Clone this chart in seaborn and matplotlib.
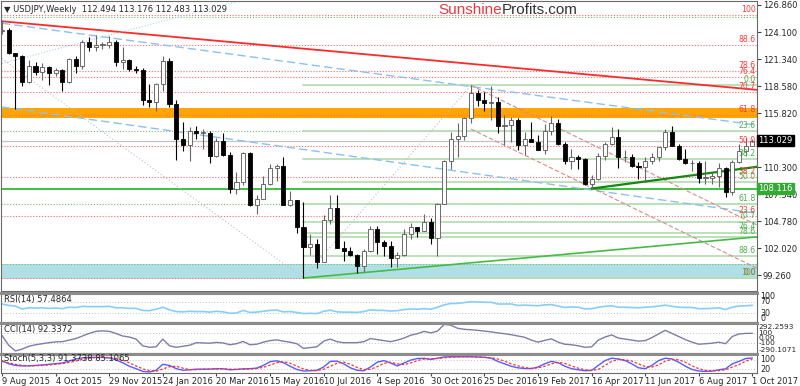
import matplotlib
matplotlib.use('Agg')
import matplotlib.pyplot as plt
import seaborn as sns

# USDJPY weekly candles, week of 9 Aug 2015 .. week of 1 Oct 2017 (bar index 0..112)
opens = [124.20, 124.30, 122.00, 121.70, 119.00, 120.60, 120.00, 120.50, 119.90, 120.20,
         119.00, 121.40, 120.60, 123.10, 122.60, 122.80, 122.80, 123.10, 121.00, 121.20,
         120.30, 120.20, 117.20, 117.00, 118.80, 121.10, 116.80, 113.20, 112.60, 114.00,
         113.80, 113.80, 111.50, 113.00, 111.60, 108.10, 108.80, 111.80, 106.50, 107.10,
         108.60, 110.20, 110.40, 106.50, 107.00, 104.20, 102.20, 102.50, 100.60, 104.90,
         106.10, 102.10, 101.80, 101.30, 100.20, 101.80, 104.00, 102.70, 102.30, 101.00,
         101.30, 103.50, 104.20, 103.80, 104.70, 103.10, 106.60, 110.90, 113.20, 113.50,
         115.30, 117.90, 117.20, 116.90, 117.00, 114.50, 114.60, 115.10, 112.60, 113.20,
         112.90, 112.10, 114.00, 114.80, 112.70, 110.90, 111.40, 111.10, 108.60, 109.10,
         111.50, 112.70, 113.40, 111.30, 111.30, 110.40, 110.30, 110.90, 111.30, 112.40,
         113.90, 112.50, 111.10, 110.70, 110.70, 109.20, 109.20, 109.40, 110.20, 107.80,
         110.80, 112.00, 112.494]
highs = [125.30, 124.50, 122.00, 121.75, 121.20, 121.00, 120.90, 120.60, 120.40, 120.30,
         121.50, 121.70, 123.30, 123.60, 123.80, 123.10, 123.70, 123.30, 122.60, 121.40,
         120.60, 120.40, 118.80, 118.90, 121.70, 121.50, 117.20, 114.90, 114.40, 114.50,
         114.20, 114.00, 113.30, 113.80, 111.90, 109.80, 111.90, 111.90, 107.50, 109.40,
         110.60, 110.60, 111.40, 107.90, 107.00, 106.80, 103.50, 103.00, 105.40, 107.50,
         107.50, 102.80, 102.20, 101.50, 102.00, 104.30, 104.30, 102.90, 102.80, 101.70,
         104.00, 104.60, 104.20, 105.50, 105.10, 106.70, 111.00, 113.90, 114.80, 115.40,
         118.66, 118.20, 118.00, 118.60, 117.50, 115.60, 115.40, 115.30, 113.90, 114.95,
         113.60, 114.70, 115.50, 115.20, 112.90, 112.20, 111.60, 111.20, 109.50, 111.80,
         112.90, 114.40, 114.20, 112.10, 111.70, 110.80, 111.40, 111.80, 112.40, 114.20,
         114.50, 112.70, 112.20, 111.00, 110.90, 110.90, 109.80, 110.70, 110.30, 111.00,
         112.70, 113.30, 113.176]
lows = [123.90, 121.90, 116.20, 118.60, 118.90, 119.70, 119.20, 118.70, 119.60, 118.10,
        118.90, 119.90, 120.30, 122.20, 122.20, 122.40, 122.50, 120.60, 120.30, 120.10,
        119.90, 116.70, 116.50, 116.00, 118.10, 116.50, 111.00, 112.00, 110.90, 113.20,
        112.20, 110.70, 111.40, 111.50, 107.70, 107.60, 108.50, 106.30, 105.50, 107.10,
        108.50, 108.90, 106.50, 106.30, 103.60, 99.00, 101.40, 100.00, 100.60, 104.50,
        102.10, 100.70, 101.20, 99.50, 99.60, 101.70, 101.50, 101.20, 100.10, 100.10,
        101.20, 103.00, 103.20, 103.80, 102.50, 101.20, 106.60, 110.10, 111.40, 113.10,
        114.80, 116.60, 116.00, 115.10, 113.80, 112.60, 112.90, 112.10, 111.60, 113.00,
        112.10, 111.70, 113.60, 112.60, 110.60, 110.10, 110.10, 108.50, 108.13, 109.00,
        111.00, 112.60, 110.20, 110.80, 110.30, 109.10, 108.80, 110.60, 110.90, 112.10,
        112.50, 111.00, 110.60, 109.90, 108.70, 108.60, 108.60, 108.30, 107.30, 107.50,
        110.70, 111.50, 112.483]
closes = [124.30, 122.00, 121.70, 119.00, 120.60, 120.00, 120.50, 119.90, 120.20, 119.00,
          121.40, 120.60, 123.10, 122.60, 122.80, 122.80, 123.10, 121.00, 121.20, 120.30,
          120.20, 117.20, 117.00, 118.80, 121.10, 116.80, 113.20, 112.60, 114.00, 113.80,
          113.80, 111.50, 113.00, 111.60, 108.10, 108.80, 111.80, 106.50, 107.10, 108.60,
          110.20, 110.40, 106.50, 107.00, 104.20, 102.20, 102.50, 100.60, 104.90, 106.10,
          102.10, 101.80, 101.30, 100.20, 101.80, 104.00, 102.70, 102.30, 101.00, 101.30,
          103.50, 104.20, 103.80, 104.70, 103.10, 106.60, 110.90, 113.20, 113.50, 115.30,
          117.90, 117.20, 116.90, 117.00, 114.50, 114.60, 115.10, 112.60, 113.20, 112.90,
          112.10, 114.00, 114.80, 112.70, 110.90, 111.40, 111.10, 108.60, 109.10, 111.50,
          112.70, 113.40, 111.30, 111.30, 110.40, 110.30, 110.90, 111.30, 112.40, 113.90,
          112.50, 111.10, 110.70, 110.70, 109.20, 109.20, 109.40, 110.20, 107.80, 110.80,
          112.00, 112.50, 113.029]

# indicator readings per bar
rsi = [62, 57, 55, 45, 49, 48, 49, 47, 48, 46, 51, 50, 54, 53, 53, 53, 54, 49, 49, 47,
       47, 40, 39, 44, 51, 42, 36, 35, 37, 36, 36, 34, 37, 35, 30, 31, 40, 33, 34, 37,
       40, 41, 35, 36, 33, 29, 30, 29, 37, 41, 35, 34, 34, 33, 36, 42, 40, 40, 38, 39,
       43, 45, 44, 46, 44, 51, 59, 64, 64, 67, 70, 69, 68, 68, 62, 62, 62, 57, 58, 57,
       56, 59, 60, 55, 50, 52, 51, 45, 46, 51, 54, 56, 51, 51, 50, 49, 51, 52, 55, 58,
       54, 51, 50, 50, 46, 46, 47, 49, 43, 51, 55, 56, 57.49]
cci = [50, -140, -250, -215, -160, -130, -110, -90, -75, -70, -40, -10, 40, 90, 130, 140, 130, 90, 40, 20,
       -20, -150, -180, -170, -20, -150, -180, -160, -140, -90, -95, -100, -85, -95, -130, -110, -65, -130, -120, -80,
       -50, -35, -60, -80, -110, -200, -185, -170, -60, -20, -70, -90, -90, -90, -70, -10, -30, -50, -70, -40,
       0, 55, 85, 130, 100, 135, 265, 250, 190, 170, 160, 150, 135, 120, 100, 85, 65, 40, 15, -40,
       -80, -45, -15, -80, -120, -130, -150, -180, -170, -40, 20, 60, 0, -20, -40, -60, -50, 10, 80, 150,
       90, 30, -30, -80, -120, -110, -100, -80, -110, 30, 80, 90, 92.34]
stoch_main = [75, 55, 45, 42, 42, 45, 48, 52, 56, 60, 72, 85, 92, 95, 95, 94, 92, 80, 62, 40,
              25, 8, 4, 15, 52, 45, 25, 15, 18, 22, 22, 22, 25, 24, 18, 20, 24, 25, 28, 45,
              68, 74, 62, 40, 20, 10, 12, 15, 35, 70, 72, 55, 30, 15, 12, 35, 65, 75, 60, 42,
              60, 78, 88, 89, 82, 90, 98, 99, 99, 99, 99, 97, 95, 90, 70, 55, 40, 30, 26, 25,
              35, 55, 70, 62, 40, 25, 18, 12, 14, 45, 75, 90, 85, 75, 55, 30, 25, 45, 75, 90,
              85, 65, 40, 20, 10, 8, 10, 18, 24, 55, 70, 88, 91.37]
stoch_signal = [70, 62, 52, 45, 43, 43, 45, 48, 52, 56, 63, 72, 83, 90, 94, 95, 94, 89, 78, 61,
                42, 24, 12, 9, 23, 37, 40, 28, 19, 18, 21, 22, 23, 24, 22, 21, 21, 23, 26, 33,
                47, 62, 68, 59, 41, 23, 14, 12, 21, 40, 59, 66, 52, 33, 19, 21, 37, 58, 65, 55,
                50, 60, 75, 85, 87, 88, 92, 96, 98, 99, 99, 98, 96, 93, 85, 72, 55, 42, 32, 27,
                30, 40, 55, 64, 58, 42, 28, 18, 14, 20, 45, 70, 82, 80, 72, 55, 38, 35, 48, 72,
                82, 80, 65, 42, 25, 14, 11, 12, 18, 35, 50, 72, 85.11]

date_labels = ['9 Aug 2015', '4 Oct 2015', '29 Nov 2015', '24 Jan 2016', '20 Mar 2016',
               '15 May 2016', '10 Jul 2016', '4 Sep 2016', '30 Oct 2016', '25 Dec 2016',
               '19 Feb 2017', '16 Apr 2017', '11 Jun 2017', '6 Aug 2017', '1 Oct 2017']
# 113.060 sits under the current-price box, so it is left out
price_ticks = [99.26, 102.02, 104.78, 107.54, 110.30, 115.82, 118.58, 121.34, 124.10, 126.86]

red_fib_names = ['100', '88.6', '78.6', '76.4', '70.7', '61.8', '50.0', '38.2', '23.6', '0.0']
red_fib_levels = [125.86, 122.80, 120.11, 119.52, 117.99, 115.60, 112.43, 109.26, 105.34, 99.00]
green_fib_names = ['0.0', '23.6', '38.2', '50.0', '61.8', '70.7', '76.4', '78.6', '88.6', '100']
green_fib_levels = [118.66, 114.02, 111.15, 108.83, 106.51, 104.76, 103.64, 103.21, 101.24, 99.00]
green_dotted_levels = [125.60, 114.02, 106.51, 100.43]

W, H = 800, 386
sns.set_style('white')
plt.rcParams['font.family'] = ['DejaVu Sans']
plt.rcParams['font.size'] = 6

fig = plt.figure(figsize=(W / 100, H / 100), dpi=100)


def panel(top, bottom):
    return fig.add_axes([1 / W, 1 - bottom / H, 756 / W, (bottom - top) / H])


ax = panel(1, 291)
ax_rsi = panel(293, 322)
ax_cci = panel(323, 353)
ax_st = panel(354, 373)

n = len(closes)
idx = list(range(n))
xlim = (-1 / 6.7, 755 / 6.7)

# ---- main price panel ----
ax.axhspan(115.30, 116.30, color='#ffa500', lw=0, zorder=0)
ax.axhspan(98.95, 100.43, color='#b0e0e6', lw=0, zorder=0)

for lv in red_fib_levels:
    ax.axhline(lv, color='#ff6b6b', lw=0.8, ls=(0, (1, 1.6)), zorder=1)
for lv in green_dotted_levels:
    ax.axhline(lv, color='#6cc06c', lw=0.8, ls=(0, (1, 1.6)), zorder=1)
for lv in green_fib_levels:
    ax.plot([45, xlim[1]], [lv, lv], color='#b8deb4', lw=1.3, zorder=1)
ax.axhline(108.116, color='#33bb33', lw=1.3, zorder=1)
ax.axhline(113.029, color='#c4c4c4', lw=0.9, zorder=1)

# trend lines
ax.plot([0, 112.7], [125.2, 118.2], color='#ff2a2a', lw=1.3, zorder=2)
ax.plot([0, 112.7], [125.0, 114.6], color='#8cc0f0', lw=1.0, ls=(0, (6, 3)), zorder=2)
ax.plot([0, 112.7], [116.45, 105.6], color='#8cc0f0', lw=1.0, ls=(0, (6, 3)), zorder=2)
ax.plot([0, 40], [120.9, 128.1], color='#a8cff2', lw=0.8, ls=(0, (1, 1.6)), zorder=2)
ax.plot([-9, 45], [125.86, 99.0], color='#bdbdbd', lw=0.8, ls=(0, (1, 2)), zorder=2)
ax.plot([45, 70], [99.0, 118.66], color='#bdbdbd', lw=0.8, ls=(0, (1, 2)), zorder=2)
ax.plot([70, 112.7], [118.66, 104.4], color='#d88a8a', lw=0.8, ls=(0, (4, 2)), zorder=2)
ax.plot([70, 112.7], [114.2, 100.0], color='#d88a8a', lw=0.8, ls=(0, (4, 2)), zorder=2)
ax.plot([45, 112.7], [99.0, 103.2], color='#44bb44', lw=1.2, zorder=2)
ax.plot([88, 112.7], [108.13, 110.35], color='#118811', lw=1.6, zorder=2)

# candles
for i in idx:
    o, h, l, c = opens[i], highs[i], lows[i], closes[i]
    up = c >= o
    ax.vlines(i, l, h, color='#666666' if up else '#000000', lw=0.8, zorder=3)
    body = max(abs(c - o), 0.06)
    ax.bar(i, body, bottom=min(o, c), width=0.62,
           color='white' if up else 'black', edgecolor='#555555' if up else 'black',
           linewidth=0.6, zorder=4)

for name, lv in zip(red_fib_names, red_fib_levels):
    ax.text(112.5, lv + 0.12, name, color='#ff3b3b', fontsize=5.6, ha='right', va='bottom', zorder=5)
for name, lv in zip(green_fib_names, green_fib_levels):
    ax.text(112.5, lv + 0.12, name, color='#4caf50', fontsize=5.6, ha='right', va='bottom', zorder=5)

ax.set_xlim(*xlim)
ax.set_ylim(126.86 - 286 / 9.8, 126.86 + 4 / 9.8)
ax.yaxis.tick_right()
ax.set_yticks(price_ticks)
ax.set_yticklabels([f'{t:.3f}' for t in price_ticks])
ax.set_xticks([])

ytr = ax.get_yaxis_transform()
ax.text(1.002, 113.029, '113.029', transform=ytr, color='white', fontsize=6, va='center',
        bbox=dict(boxstyle='square,pad=0.15', fc='black', ec='black'), zorder=6)
ax.text(1.002, 108.116, '108.116', transform=ytr, color='white', fontsize=6, va='center',
        bbox=dict(boxstyle='square,pad=0.15', fc='#33aa33', ec='#33aa33'), zorder=6)

# ---- RSI ----
for lv in (70, 30):
    ax_rsi.axhline(lv, color='#c0c0c0', lw=0.7, ls=(0, (1, 2)))
sns.lineplot(x=idx, y=rsi, ax=ax_rsi, color='#87cefa', lw=1.2)
ax_rsi.set_ylim(0, 100)
ax_rsi.text(0.004, 0.94, 'RSI(14) 57.4864', transform=ax_rsi.transAxes, va='top', fontsize=6)
for val, lab in [(88, '100'), (70, '70'), (30, '30'), (13, '0')]:
    ax_rsi.text(1.004, val, lab, transform=ax_rsi.get_yaxis_transform(), va='center', fontsize=5.8)

# ---- CCI ----
for lv in (100, -100):
    ax_cci.axhline(lv, color='#c0c0c0', lw=0.7, ls=(0, (1, 2)))
sns.lineplot(x=idx, y=cci, ax=ax_cci, color='#7d7daa', lw=1.0)
ax_cci.set_ylim(-290.1071, 292.2593)
ax_cci.text(0.004, 0.94, 'CCI(14) 92.3372', transform=ax_cci.transAxes, va='top', fontsize=6)
for val, lab in [(205, '292.2593'), (100, '100'), (0, '0.00'), (-100, '-100'), (-235, '-290.1071')]:
    ax_cci.text(1.002, val, lab, transform=ax_cci.get_yaxis_transform(), va='center', fontsize=5.3)

# ---- Stochastic ----
for lv in (80, 20):
    ax_st.axhline(lv, color='#c0c0c0', lw=0.7, ls=(0, (1, 2)))
sns.lineplot(x=idx, y=stoch_main, ax=ax_st, color='#5a5aff', lw=1.0)
sns.lineplot(x=idx, y=stoch_signal, ax=ax_st, color='#ff3030', lw=0.9, ls=(0, (2, 1.5)))
ax_st.set_ylim(-2, 116)
ax_st.text(0.004, 0.99, 'Stoch(5,3,3) 91.3738 85.1065', transform=ax_st.transAxes, va='top', fontsize=6)
for val, lab in [(80, '100'), (20, '20')]:
    ax_st.text(1.004, val, lab, transform=ax_st.get_yaxis_transform(), va='center', fontsize=5.8)

for a in (ax, ax_rsi, ax_cci, ax_st):
    a.set_xlim(*xlim)
    for s in a.spines.values():
        s.set_color('#6a6a6a')
        s.set_linewidth(0.8)
    a.set_ylabel('')
for a in (ax_rsi, ax_cci, ax_st):
    a.set_yticks([])
    a.spines['top'].set_linewidth(2.2)
    a.spines['top'].set_color('#8c8c8c')
for a in (ax_rsi, ax_cci):
    a.set_xticks([])

ax.tick_params(axis='y', length=3, pad=1.2, labelsize=6, right=True, color='#444444')
ax_st.set_xticks(list(range(0, n, 8)))
ax_st.set_xticklabels(date_labels)
for lab in ax_st.get_xticklabels():
    lab.set_ha('left')
ax_st.tick_params(axis='x', length=2, pad=0.8, labelsize=6, bottom=True, color='#444444')

# header texts
fig.text(4 / W, 1 - 9 / H, '\u25bc USDJPY,Weekly  112.494 113.176 112.483 113.029', fontsize=6, va='center')
fig.text(502 / W, 1 - 10 / H, 'Sunshine', color='#e8383d', fontsize=11, ha='right', va='center',
         family='Liberation Sans')
fig.text(502 / W, 1 - 10 / H, 'Profits.com', color='#333333', fontsize=11, ha='left', va='center',
         family='Liberation Sans')

fig.savefig('out.png', dpi=100)
